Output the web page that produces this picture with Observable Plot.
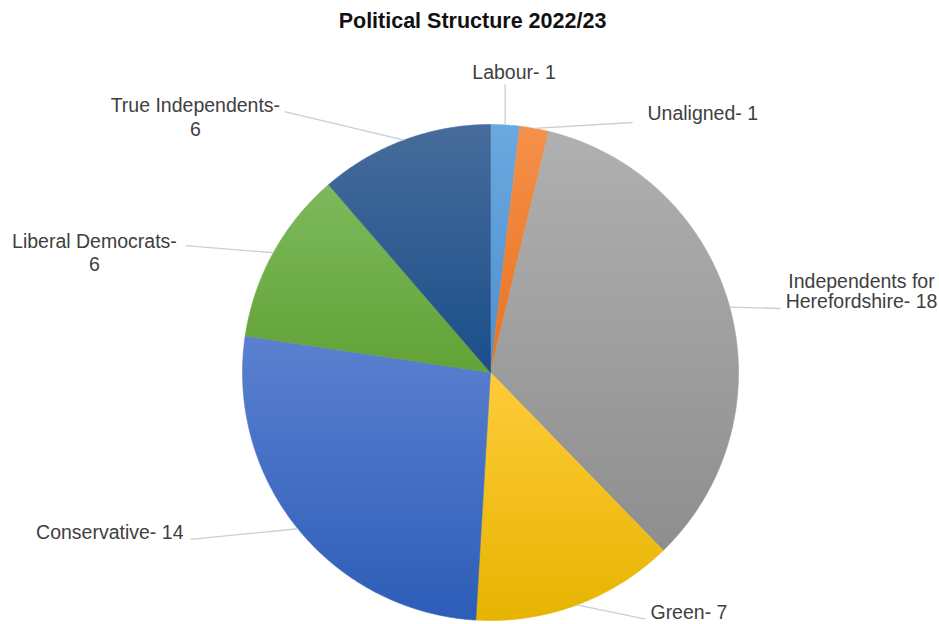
<!DOCTYPE html>
<html>
<head>
<meta charset="utf-8">
<script src="https://cdn.jsdelivr.net/npm/d3@7"></script>
<script src="https://cdn.jsdelivr.net/npm/@observablehq/plot@0.6"></script>
<style>
  html, body { margin: 0; padding: 0; background: #fff; }
  #chart { width: 939px; height: 624px; overflow: hidden; }
</style>
</head>
<body>
<div id="chart"></div>
<script>
// ---------- data ----------
const chartTitle = "Political Structure 2022/23";
const parties = ["Labour", "Unaligned", "Independents for Herefordshire", "Green", "Conservative", "Liberal Democrats", "True Independents"];
const seats = [1, 1, 18, 7, 14, 6, 6];

// ---------- style ----------
const colorTop    = ["#6aa8e0", "#f5904a", "#b0b0b0", "#ffcb3a", "#5b80d0", "#7db95c", "#476c9b"];
const colorBottom = ["#4f8fcd", "#e8731f", "#8e8e8e", "#e6b400", "#2d5db8", "#62a236", "#1a4e8a"];

// ---------- layout (pie centre / radius in px, labels in radius units) ----------
const W = 939, H = 624, CX = 490, CY = 372, R = 248;
const labelLayout = [
  {tx: 0.095,  ty: 1.212, anchor: "middle", lh: 1.2,  wrap: null,  ex: 0.059,  ey: 1.161},
  {tx: 0.633,  ty: 1.050, anchor: "start",  lh: 1.2,  wrap: null,  ex: 0.573,  ey: 1.008},
  {tx: 1.496,  ty: 0.325, anchor: "middle", lh: 1.03, wrap: "for ", ex: 1.169, ey: 0.258},
  {tx: 0.645,  ty: -0.962, anchor: "start", lh: 1.2,  wrap: null,  ex: 0.625,  ey: -0.994},
  {tx: -1.238, ty: -0.643, anchor: "end",   lh: 1.2,  wrap: null,  ex: -1.210, ey: -0.673},
  {tx: -1.597, ty: 0.485, anchor: "middle", lh: 1.2,  wrap: "- ",  ex: -1.230, ey: 0.512},
  {tx: -1.190, ty: 1.032, anchor: "middle", lh: 1.23, wrap: "- ",  ex: -0.831, ey: 1.052}
];

// ---------- derived ----------
const rows = parties.map((party, i) => ({party, seats: seats[i], i}));
const arcs = d3.pie().sort(null).value(d => d.seats)(rows);

function slicePoints(a) {
  const pts = [{x: 0, y: 0}];
  const n = Math.max(2, Math.ceil((a.endAngle - a.startAngle) / (Math.PI / 360)));
  for (let k = 0; k <= n; k++) {
    const t = a.startAngle + (a.endAngle - a.startAngle) * k / n;
    pts.push({x: Math.sin(t), y: Math.cos(t)});
  }
  pts.push({x: 0, y: 0});
  return pts;
}

const leaders = arcs.map((a, i) => {
  const m = (a.startAngle + a.endAngle) / 2;
  const L = labelLayout[i];
  return {x1: Math.sin(m), y1: Math.cos(m), x2: L.ex, y2: L.ey};
});

const labels = arcs.map((a, i) => {
  const L = labelLayout[i];
  let text = `${a.data.party}- ${a.data.seats}`;
  if (L.wrap) text = text.replace(L.wrap, L.wrap.trimEnd() + "\n");
  return {text, x: L.tx, y: L.ty, anchor: L.anchor, lh: L.lh};
});

const sliceMarks = arcs.map((a, i) =>
  Plot.line(slicePoints(a), {
    x: "x", y: "y",
    fill: `url(#grad${i})`,
    stroke: `url(#grad${i})`,
    strokeWidth: 0.6,
    curve: "linear"
  })
);

const labelMarks = labels.map(l =>
  Plot.text([l], {
    x: "x", y: "y", text: "text",
    textAnchor: l.anchor,
    lineAnchor: "middle",
    lineHeight: l.lh,
    fill: "#404040",
    fontSize: 19.5
  })
);

const svg = Plot.plot({
  width: W,
  height: H,
  margin: 0,
  style: {fontFamily: "'Liberation Sans', Arial, sans-serif", background: "#fff", overflow: "visible"},
  x: {domain: [-CX / R, (W - CX) / R], axis: null},
  y: {domain: [-(H - CY) / R, CY / R], axis: null},
  marks: [
    ...sliceMarks,
    Plot.link(leaders, {x1: "x1", y1: "y1", x2: "x2", y2: "y2", stroke: "#c6cfdc", strokeWidth: 1.3}),
    ...labelMarks,
    Plot.text([chartTitle], {
      frameAnchor: "top", dx: 2.5, dy: 21, lineAnchor: "middle",
      fontSize: 21.5, fontWeight: "bold", fill: "#111"
    })
  ]
});

// gradients for slices (light top -> darker bottom, per slice)
const defs = d3.select(svg).insert("defs", ":first-child");
arcs.forEach((a, i) => {
  const g = defs.append("linearGradient")
    .attr("id", `grad${i}`)
    .attr("x1", 0).attr("y1", 0).attr("x2", 0).attr("y2", 1);
  g.append("stop").attr("offset", "0%").attr("stop-color", colorTop[i]);
  g.append("stop").attr("offset", "100%").attr("stop-color", colorBottom[i]);
});

document.getElementById("chart").appendChild(svg);
</script>
</body>
</html>
